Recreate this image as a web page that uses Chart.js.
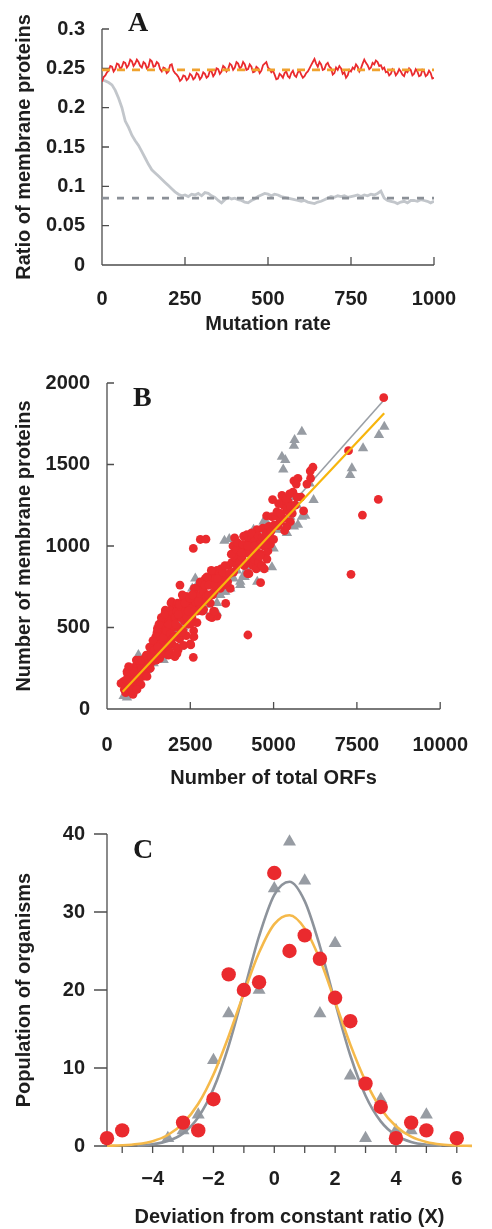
<!DOCTYPE html>
<html><head><meta charset="utf-8">
<script src="https://cdn.jsdelivr.net/npm/chart.js@4.4.1/dist/chart.umd.min.js"></script>
<style>
html,body{margin:0;padding:0;background:#fff;}
body{width:492px;height:1229px;position:relative;overflow:hidden;}
.p{position:absolute;left:0;width:492px;}
canvas{display:block;}
.lbl{position:absolute;z-index:5;font-family:"Liberation Serif","Times New Roman",serif;font-weight:bold;font-size:28px;line-height:28px;color:#1a1a1a;}
</style></head>
<body>
<div class="p" style="top:0;height:345px"><canvas id="cA" width="492" height="345" style="width:492px;height:345px"></canvas></div>
<div class="p" style="top:345px;height:455px"><canvas id="cB" width="492" height="455" style="width:492px;height:455px"></canvas></div>
<div class="p" style="top:800px;height:429px"><canvas id="cC" width="492" height="429" style="width:492px;height:429px"></canvas></div>
<div class="lbl" style="left:128px;top:8px">A</div>
<div class="lbl" style="left:133px;top:383px">B</div>
<div class="lbl" style="left:133px;top:835px">C</div>
<script>
// ---------- Panel A data ----------
const mutationRateFine = [0,5,10,15,20,25,30,35,40,45,50,55,60,65,70,75,80,85,90,95,
100,105,110,115,120,125,130,135,140,145,150,155,160,165,170,175,180,185,190,195,
200,205,210,215,220,225,230,235,240,245,250,255,260,265,270,275,280,285,290,295,
300,305,310,315,320,325,330,335,340,345,350,355,360,365,370,375,380,385,390,395,
400,405,410,415,420,425,430,435,440,445,450,455,460,465,470,475,480,485,490,495,
500,505,510,515,520,525,530,535,540,545,550,555,560,565,570,575,580,585,590,595,
600,605,610,615,620,625,630,635,640,645,650,655,660,665,670,675,680,685,690,695,
700,705,710,715,720,725,730,735,740,745,750,755,760,765,770,775,780,785,790,795,
800,805,810,815,820,825,830,835,840,845,850,855,860,865,870,875,880,885,890,895,
900,905,910,915,920,925,930,935,940,945,950,955,960,965,970,975,980,985,990,995,1000];
const ratioRed = [
0.233,0.239,0.241,0.245,0.247,0.253,0.252,0.246,0.249,0.256,0.255,0.249,0.252,0.258,0.257,0.251,0.254,0.261,0.259,0.253,
0.256,0.261,0.258,0.253,0.251,0.258,0.256,0.250,0.252,0.261,0.259,0.252,0.253,0.258,0.256,0.249,0.246,0.251,0.250,0.244,
0.246,0.254,0.255,0.247,0.244,0.242,0.239,0.234,0.236,0.241,0.240,0.235,0.237,0.243,0.241,0.236,0.238,0.244,0.242,0.236,
0.239,0.245,0.243,0.238,0.240,0.247,0.246,0.240,0.243,0.250,0.249,0.243,0.246,0.253,0.251,0.246,0.249,0.256,0.254,0.248,
0.251,0.258,0.256,0.250,0.252,0.258,0.255,0.248,0.249,0.255,0.252,0.245,0.246,0.252,0.250,0.244,0.247,0.254,0.256,0.258,
0.251,0.249,0.245,0.247,0.242,0.236,0.237,0.243,0.241,0.238,0.244,0.246,0.240,0.238,0.244,0.247,0.241,0.239,0.245,0.247,
0.242,0.238,0.240,0.244,0.246,0.250,0.254,0.258,0.262,0.256,0.252,0.258,0.255,0.248,0.249,0.255,0.257,0.252,0.250,0.242,
0.244,0.251,0.248,0.253,0.250,0.243,0.245,0.238,0.241,0.248,0.246,0.251,0.249,0.255,0.252,0.246,0.250,0.256,0.261,0.257,
0.254,0.249,0.251,0.257,0.255,0.260,0.258,0.253,0.254,0.249,0.251,0.245,0.246,0.241,0.243,0.249,0.247,0.241,0.244,0.249,
0.246,0.242,0.240,0.247,0.245,0.250,0.248,0.241,0.243,0.249,0.246,0.240,0.241,0.248,0.246,0.240,0.242,0.247,0.244,0.237,
0.238];
const mutationRate = [0,10,20,30,40,50,60,70,80,90,100,110,120,130,140,150,160,170,180,190,200,210,220,230,240,250,260,270,280,290,300,310,320,330,340,350,360,370,380,390,400,410,420,430,440,450,460,470,480,490,500,510,520,530,540,550,560,570,580,590,600,610,620,630,640,650,660,670,680,690,700,710,720,730,740,750,760,770,780,790,800,810,820,830,840,850,860,870,880,890,900,910,920,930,940,950,960,970,980,990,1000];
const ratioGray = [
0.235,0.234,0.232,0.229,0.222,0.212,0.200,0.183,0.175,0.165,
0.158,0.152,0.144,0.136,0.128,0.121,0.117,0.113,0.109,0.105,
0.101,0.097,0.093,0.090,0.088,0.089,0.087,0.090,0.089,0.091,
0.088,0.092,0.091,0.088,0.086,0.082,0.079,0.083,0.086,0.084,
0.085,0.083,0.082,0.080,0.079,0.082,0.084,0.087,0.089,0.091,
0.090,0.088,0.090,0.089,0.087,0.086,0.085,0.084,0.083,0.082,
0.081,0.082,0.080,0.079,0.078,0.080,0.081,0.083,0.085,0.087,
0.086,0.088,0.087,0.088,0.086,0.087,0.088,0.089,0.087,0.089,
0.088,0.090,0.089,0.091,0.094,0.085,0.082,0.081,0.080,0.078,
0.080,0.081,0.079,0.082,0.082,0.081,0.083,0.082,0.081,0.079,
0.081];
const refLineX = [0,1000];
const refOrange = [0.248,0.248];
const refGray = [0.085,0.085];
const aXTicks = [0,250,500,750,1000];
const aXLabels = ['0','250','500','750','1000'];
const aYTicks = [0,0.05,0.1,0.15,0.2,0.25,0.3];
const aYLabels = ['0','0.05','0.1','0.15','0.2','0.25','0.3'];

// ---------- Panel B data (total ORFs, membrane proteins) ----------
const bRedPoints = [
[500,170],[520,120],[560,100],[600,230],[620,150],[650,190],[680,110],[700,130],[720,210],[740,250],
[760,170],[780,90],[800,140],[820,200],[850,260],[870,120],[900,180],[920,280],[950,230],[980,190],
[1000,280],[1020,150],[1050,250],[1080,200],[1100,290],[1130,270],[1160,230],[1200,280],[880,300],[960,300],
[1040,300],[1150,310],[420,157],[610,219],[752,116],
[1250,300],[1300,340],[1350,290],[1400,340],[1420,380],[1450,320],[1500,350],[1530,420],[1550,460],[1580,310],
[1600,390],[1620,480],[1650,440],[1680,360],[1700,500],[1720,410],[1750,450],[1770,380],[1800,520],[1820,470],
[1850,600],[1870,430],[1900,540],[1920,650],[1950,400],[1980,500],[2000,620],[1600,420],[1700,340],[1780,560],
[1880,350],[1960,580],[1500,470],[1400,300],[1660,520],[1840,330],[1750,607],[1940,658],[2085,638],[1514,495],
[1466,444],[1847,546],[2133,362],[2037,321],[1609,341],
[2030,450],[2050,560],[2080,380],[2100,600],[2120,650],[2150,500],[2180,430],[2190,760],[2220,560],[2250,620],
[2280,480],[2300,680],[2320,540],[2350,600],[2380,450],[2400,690],[2420,640],[2450,520],[2480,590],[2500,400],
[2520,630],[2550,560],[2590,317],[2590,985],[2620,740],[2650,650],[2680,700],[2700,600],[2720,690],[2750,750],
[2780,640],[2800,1040],[2820,700],[2850,770],[2880,660],[2900,720],[2950,800],[2970,1042],[2980,690],[2100,340],
[2300,390],[2400,560],[2600,480],[2700,530],[2900,610],[2370,689],[2466,617],[2656,658],[2513,393],[2608,444],[2513,525],
[3020,760],[3050,700],[3080,810],[3100,650],[3150,770],[3200,840],[3220,720],[3250,800],[3280,760],[3300,850],
[3350,790],[3380,830],[3400,740],[3420,860],[3450,800],[3500,760],[3562,648],[3600,820],[3650,880],[3700,740],
[3750,900],[3800,840],[3850,930],[3900,880],[3950,970],[3980,900],[3200,600],[3300,570],[3150,560],[3085,566],[3227,597],
[4000,1000],[4050,930],[4100,1060],[4120,880],[4150,1000],[4180,960],[4200,1070],[4220,830],[4228,454],[4250,1030],
[4280,900],[4300,1000],[4320,950],[4350,1050],[4380,880],[4400,980],[4420,920],[4450,1040],[4480,860],[4500,1100],
[4520,960],[4550,900],[4580,1010],[4610,775],[4620,950],[4650,880],[4680,1110],[4700,1000],[4720,860],[4750,940],
[4790,1185],[4800,920],[4830,970],[4850,1070],[4880,1040],[4900,1010],[4950,1180],[4970,1285],[5000,1040],[4160,890],[4260,830],
[5060,1185],[5100,1210],[5130,1125],[5200,1150],[5250,1310],[5275,1300],[5300,1250],[5330,1095],[5350,1280],[5400,1230],
[5430,1215],[5450,1270],[5500,1150],[5520,1240],[5580,1330],[5610,1400],[5650,1250],[5730,1415],[5820,1300],[5900,1215],
[6110,1415],[6100,1460],[6180,1483],[5400,1120],[5300,1170],
[1100,220],[1180,330],[1230,260],[1280,380],[1330,320],[1380,420],[1430,360],[1480,300],[1530,380],[1560,520],
[1630,560],[1690,440],[1730,580],[1790,480],[1860,520],[1910,460],[1990,440],[2060,520],[2140,580],[2170,640],
[2230,470],[2260,700],[2340,650],[2440,600],[2490,680],[2560,700],[2630,600],[2740,660],[2800,780],[2860,600],
[2940,760],[3000,810],[3060,760],[3130,850],[3170,700],[3240,760],[3320,800],[3440,760],[3480,840],[3540,880],
[3620,780],[3680,830],[3730,950],[3780,1000],[3830,1050],[3880,980],[3920,1020],[4030,960],[4080,1010],[4230,1000],
[4340,1080],[4430,1000],[4470,950],[4540,1060],[4590,940],[4660,1050],[4740,1010],[4780,1080],[4860,1120],[4920,1090],
[5020,1130],[5150,1260],[5220,1200],[5380,1290],[5480,1320],[5560,1200],[5680,1380],[5700,1300],[6000,1380],[800,230],
[650,260],[580,180],[900,120],[1000,200],[1200,200],[1300,250],
[7248,1585],[8305,1910],[8143,1286],[7666,1190],[7323,826]
];
const bGrayPoints = [
[500,80],[600,70],[700,90],[650,130],[800,160],[900,250],[943,331],[1000,220],[1086,300],[1150,260],
[1200,240],[1300,300],[1400,280],[1500,330],[1600,360],[1700,380],[1800,420],[1900,380],[2000,450],[2100,480],
[2200,520],[2300,500],[2400,560],[2500,600],[2590,690],[2650,800],[2700,760],[2800,720],[2900,790],[3000,640],
[3100,700],[3200,780],[3300,590],[3400,700],[3500,720],[3550,720],[3650,740],[3700,740],[3525,1032],[3670,1043],
[3850,990],[3950,1010],[4000,780],[4100,820],[4200,860],[4300,950],[4400,1000],[4500,1050],[4600,1100],[4700,1150],
[4800,1140],[4850,1120],[4950,870],[5000,985],[5100,1100],[5200,1150],[5300,1100],[5400,1080],[5500,1180],[5610,1120],
[5730,1130],[5850,1180],[5950,1185],[6080,1383],[6200,1282],[5610,1615],[5630,1650],[5848,1701],[5250,1548],[5350,1528],
[5290,1470],[7300,1436],[7350,1477],[7685,1600],[8162,1681],[8323,1732],[4600,880],[4700,860],[3900,850],[3800,800],
[4400,1100],[5500,1300],[5700,1250],[2200,380],[1700,300],[2900,600],[3300,650],[4510,780],[4000,760],[4130,810],[2560,740]
];
const bFitGrayX = [500,8280];
const bFitGrayY = [95,1888];
const bFitOrangeX = [470,8320];
const bFitOrangeY = [106,1814];
const bXTicks = [0,2500,5000,7500,10000];
const bXLabels = ['0','2500','5000','7500','10000'];
const bYTicks = [0,500,1000,1500,2000];
const bYLabels = ['0','500','1000','1500','2000'];

// ---------- Panel C data ----------
const cRedX = [-5.5,-5,-3,-2.5,-2,-1.5,-1,-0.5,0,0.5,1,1.5,2,2.5,3,3.5,4,4.5,5,6];
const cRedY = [1,2,3,2,6,22,20,21,35,25,27,24,19,16,8,5,1,3,2,1];
const cGrayX = [-3.5,-3,-2.5,-2,-1.5,-1,-0.5,0,0.5,1,1.5,2,2.5,3,3.5,4,4.5,5];
const cGrayY = [1,2,4,11,17,20,20,33,39,34,17,26,9,1,6,2,2,4];
const cGrayCurveX = [-4.5,-4,-3.5,-3,-2.5,-2,-1.5,-1,-0.5,0,0.5,1,1.5,2,2.5,3,3.5,4,4.5,5,5.5];
const cGrayCurveY = [0.07,0.22,0.63,1.62,3.68,7.33,12.85,19.8,26.9,32.2,33.88,31.4,25.6,18.4,11.6,6.45,3.16,1.36,0.52,0.17,0.05];
const cOrangeCurveX = [-5.5,-5,-4.5,-4,-3.5,-3,-2.5,-2,-1.5,-1,-0.5,0,0.5,1,1.5,2,2.5,3,3.5,4,4.5,5,5.5,6,6.5];
const cOrangeCurveY = [0.03,0.09,0.25,0.62,1.41,2.90,5.41,9.17,14.08,19.6,24.8,28.45,29.59,27.9,23.9,18.5,13.0,8.31,4.81,2.53,1.20,0.52,0.20,0.07,0.02];
const cXTicks = [-5,-4,-3,-2,-1,0,1,2,3,4,5,6];
const cXLabels = ['','\u22124','','\u22122','','0','','2','','4','','6'];
const cYTicks = [0,10,20,30,40];
const cYLabels = ['0','10','20','30','40'];

// ---------- helpers ----------
const FONT = {family:'"Liberation Sans", Arial, Helvetica, sans-serif', size:20, weight:'bold', lineHeight:1.2};
const TXT = '#1e1e1e';
const AX = '#4d4d4d';
const RED = '#ea2a2e';
function pts(xs, ys){ return xs.map((x,i)=>({x:x, y:ys[i]})); }
function pairPts(arr){ return arr.map(p=>({x:p[0], y:p[1]})); }

function axesPlugin(o){
  return { id:'axesDraw', beforeDatasetsDraw(chart){
    const ctx = chart.ctx, a = chart.chartArea, xs = chart.scales.x, ys = chart.scales.y;
    ctx.save(); ctx.strokeStyle = AX; ctx.lineWidth = 1.3;
    ctx.beginPath();
    ctx.moveTo(a.left, a.top); ctx.lineTo(a.left, a.bottom);
    ctx.moveTo(a.left - (o.xAxisExt||0), a.bottom); ctx.lineTo(a.right, a.bottom);
    ys.ticks.forEach(t=>{ const p = ys.getPixelForValue(t.value); ctx.moveTo(a.left, p); ctx.lineTo(a.left + o.yDir*o.yLen, p); });
    xs.ticks.forEach(t=>{ const p = xs.getPixelForValue(t.value); ctx.moveTo(p, a.bottom); ctx.lineTo(p, a.bottom + o.xDir*o.xLen); });
    ctx.stroke(); ctx.restore();
  }};
}

function makeScales(c){
  return {
    x:{ type:'linear', min:c.xmin, max:c.xmax,
        grid:{display:false, drawTicks:false}, border:{display:false},
        afterBuildTicks:s=>{ s.ticks = c.xt.map(v=>({value:v})); },
        ticks:{ font:FONT, color:TXT, padding:c.xpad, maxRotation:0, minRotation:0, autoSkip:false, callback:(v,i)=>c.xl[i] },
        title:{ display:true, text:c.xtitle, font:FONT, color:TXT, padding:{top:0,bottom:0} },
        afterFit:s=>{ s.height = c.xh; } },
    y:{ type:'linear', min:c.ymin, max:c.ymax,
        grid:{display:false, drawTicks:false}, border:{display:false},
        afterBuildTicks:s=>{ s.ticks = c.yt.map(v=>({value:v})); },
        ticks:{ font:FONT, color:TXT, padding:c.ypad, autoSkip:false, callback:(v,i)=>c.yl[i] },
        title:{ display:true, text:c.ytitle, font:FONT, color:TXT, padding:{top:12,bottom:0} },
        afterFit:s=>{ s.width = c.yw; } }
  };
}
function baseOptions(pad, scales){
  return { responsive:false, animation:false, devicePixelRatio:1, events:[],
    layout:{padding:pad},
    plugins:{legend:{display:false}, tooltip:{enabled:false}, title:{display:false}},
    scales:scales };
}

// ---------- Chart A ----------
new Chart(document.getElementById('cA'), {
  type:'scatter',
  data:{ datasets:[
    { label:'Ratio (red)', data:pts(mutationRateFine, ratioRed), showLine:true, borderColor:RED, borderWidth:1.8, pointRadius:0, tension:0, order:3 },
    { label:'Ratio (gray)', data:pts(mutationRate, ratioGray), showLine:true, borderColor:'#c2c6cb', borderWidth:2.8, pointRadius:0, tension:0, order:4 },
    { label:'Constant (orange)', data:pts(refLineX, refOrange), showLine:true, borderColor:'#f0a22e', borderDash:[8,7], borderWidth:2.6, pointRadius:0, order:1 },
    { label:'Constant (gray)', data:pts(refLineX, refGray), showLine:true, borderColor:'#8b9097', borderDash:[7,8], borderWidth:2.6, pointRadius:0, order:2 }
  ]},
  options: baseOptions({top:22,right:58,left:0,bottom:9}, makeScales({
    xmin:0, xmax:1000, xt:aXTicks, xl:aXLabels, xpad:22, xh:71, xtitle:'Mutation rate',
    ymin:0, ymax:0.3, yt:aYTicks, yl:aYLabels, ypad:17, yw:102, ytitle:'Ratio of membrane proteins'
  })),
  plugins:[axesPlugin({yDir:1, yLen:7, xDir:-1, xLen:8})]
});

// ---------- Chart B ----------
new Chart(document.getElementById('cB'), {
  type:'scatter',
  data:{ datasets:[
    { label:'Gray triangles', data:pairPts(bGrayPoints), pointStyle:'triangle', pointRadius:6, backgroundColor:'#979ca3', borderWidth:0, order:4, clip:false },
    { label:'Gray fit', data:pts(bFitGrayX, bFitGrayY), showLine:true, borderColor:'#9a9fa6', borderWidth:1.6, pointRadius:0, order:3 },
    { label:'Red circles', data:pairPts(bRedPoints), pointStyle:'circle', pointRadius:4.4, backgroundColor:RED, borderWidth:0, order:2, clip:false },
    { label:'Orange fit', data:pts(bFitOrangeX, bFitOrangeY), showLine:true, borderColor:'#f7b50c', borderWidth:2.2, pointRadius:0, order:1 }
  ]},
  options: baseOptions({top:38,right:35,left:0,bottom:10}, makeScales({
    xmin:0, xmax:10000, xt:bXTicks, xl:bXLabels, xpad:24, xh:81, xtitle:'Number of total ORFs',
    ymin:0, ymax:2000, yt:bYTicks, yl:bYLabels, ypad:17, yw:107, ytitle:'Number of membrane proteins'
  })),
  plugins:[axesPlugin({yDir:1, yLen:7, xDir:-1, xLen:7})]
});

// ---------- Chart C ----------
new Chart(document.getElementById('cC'), {
  type:'scatter',
  data:{ datasets:[
    { label:'Gray triangles', data:pts(cGrayX, cGrayY), pointStyle:'triangle', pointRadius:7.5, backgroundColor:'#979ca3', borderWidth:0, order:4, clip:false },
    { label:'Gray curve', data:pts(cGrayCurveX, cGrayCurveY), showLine:true, borderColor:'#8d939b', borderWidth:2.6, pointRadius:0, cubicInterpolationMode:'monotone', order:3, clip:false },
    { label:'Orange curve', data:pts(cOrangeCurveX, cOrangeCurveY), showLine:true, borderColor:'#f5b94a', borderWidth:2.6, pointRadius:0, cubicInterpolationMode:'monotone', order:2, clip:false },
    { label:'Red circles', data:pts(cRedX, cRedY), pointStyle:'circle', pointRadius:7.2, backgroundColor:RED, borderWidth:0, order:1, clip:false }
  ]},
  options: baseOptions({top:33,right:20,left:0,bottom:0}, makeScales({
    xmin:-5.5, xmax:6.5, xt:cXTicks, xl:cXLabels, xpad:21, xh:83, xtitle:'Deviation from constant ratio (X)',
    ymin:0, ymax:40, yt:cYTicks, yl:cYLabels, ypad:22, yw:107, ytitle:'Population of organisms'
  })),
  plugins:[axesPlugin({yDir:-1, yLen:13, xDir:1, xLen:7, xAxisExt:13})]
});
</script>
</body></html>
